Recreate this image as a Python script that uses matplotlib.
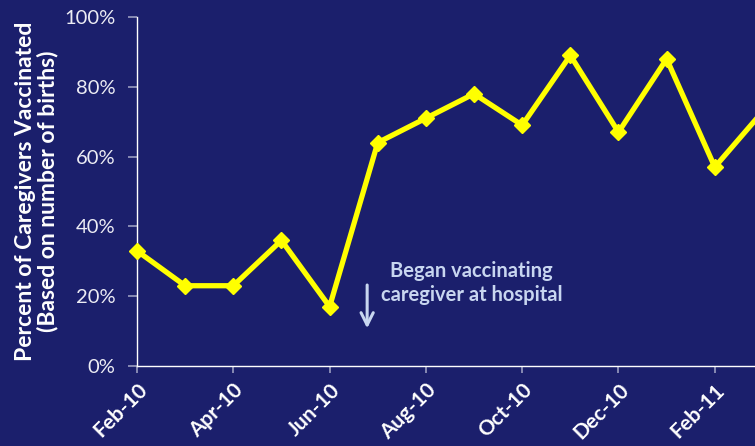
import numpy as np
import matplotlib.pyplot as plt
from matplotlib.ticker import PercentFormatter

# Datos (porcentaje por mes, Feb-10 a Mar-11)
months = ['Feb-10', 'Mar-10', 'Apr-10', 'May-10', 'Jun-10', 'Jul-10', 'Aug-10',
          'Sep-10', 'Oct-10', 'Nov-10', 'Dec-10', 'Jan-11', 'Feb-11', 'Mar-11']
vaccinated = [33, 23, 23, 36, 17, 64, 71, 78, 69, 89, 67, 88, 57, 73]

bg = '#1b1f6c'
plt.rcParams['font.family'] = ['Lato', 'DejaVu Sans']

fig = plt.figure(figsize=(7.55, 4.46), dpi=100, facecolor=bg)
ax = fig.add_axes([137/755, 80/446, 650/755, 349/446], facecolor=bg)

x = np.arange(len(months))
ax.plot(x, vaccinated, color='#ffff00', lw=3.8, marker='D', markersize=8.5,
        clip_on=False, zorder=3)

ax.set_xlim(0, 13.5)
ax.set_ylim(0, 100)
ax.yaxis.set_major_formatter(PercentFormatter(decimals=0))
ax.set_yticks(range(0, 101, 20))
ax.set_xticks(x[::2])
ax.set_xticklabels(months[::2], rotation=45, ha='right', rotation_mode='anchor',
                   fontweight='bold', fontsize=15)
ax.tick_params(axis='y', colors='#9a9cc0', labelcolor='#ececf4', labelsize=14.5,
               length=6.5, width=1.2, pad=9)
ax.tick_params(axis='x', colors='#9a9cc0', labelcolor='white', length=5,
               width=1.2, pad=5)

for s in ['top', 'right']:
    ax.spines[s].set_visible(False)
for s in ['left', 'bottom']:
    ax.spines[s].set_color('white')
    ax.spines[s].set_linewidth(1)

ax.set_ylabel('Percent of Caregivers Vaccinated\n(Based on number of births)',
              color='white', fontweight='bold', fontsize=16.5, labelpad=4,
              linespacing=1.05)

# Anotación
ax.annotate('', xy=(4.78, 10), xytext=(4.78, 24),
            arrowprops=dict(arrowstyle='->', color='#c8d6f0', lw=2.2,
                            mutation_scale=22))
ax.text(6.95, 23.7, 'Began vaccinating\ncaregiver at hospital', color='#c8d6f0',
        fontweight='bold', fontsize=14.5, ha='center', va='center',
        linespacing=1.25)

fig.savefig('out.png', dpi=100, facecolor=bg)
